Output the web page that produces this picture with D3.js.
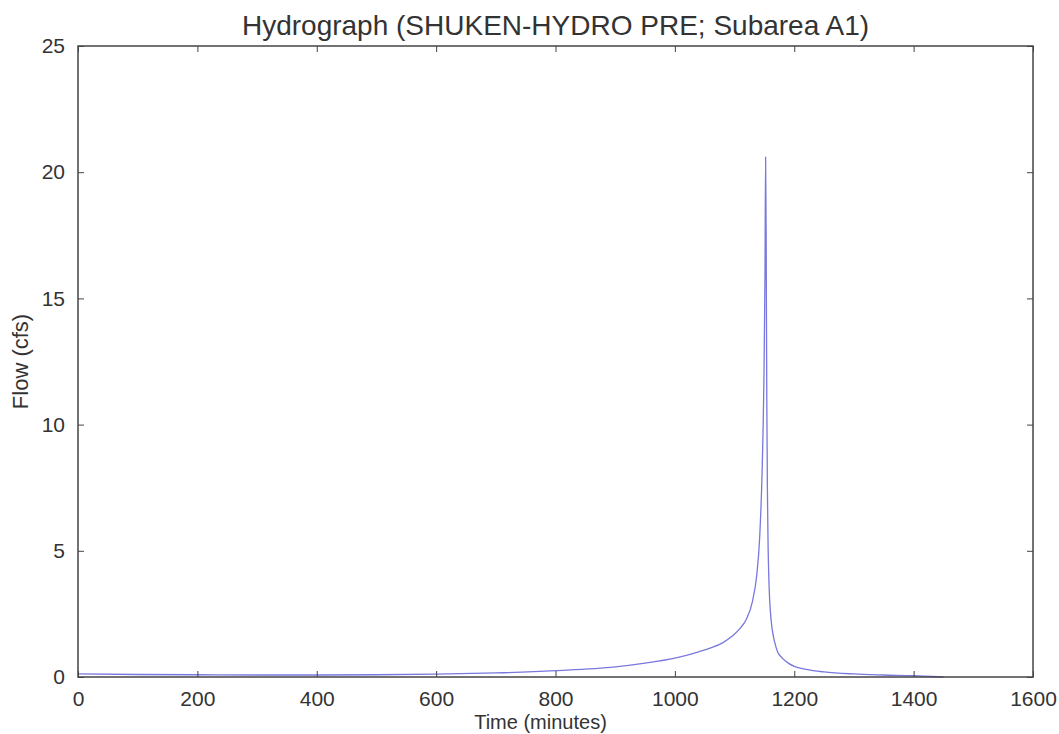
<!DOCTYPE html>
<html>
<head>
<meta charset="utf-8">
<script src="https://d3js.org/d3.v7.min.js"></script>
<style>
  body { margin: 0; background: #fff; }
  text { font-family: "Liberation Sans", Arial, sans-serif; fill: #333; }
</style>
</head>
<body>
<div id="chart-area"></div>
<script>
// data
var times = [0, 100, 200, 300, 400, 500, 600, 700, 800, 900, 950, 1000, 1040, 1060, 1080, 1095,
  1110, 1120, 1130, 1137, 1142, 1146, 1149, 1151, 1152, 1153, 1154, 1155, 1156, 1158, 1160,
  1163, 1167, 1172, 1180, 1190, 1200, 1220, 1250, 1300, 1350, 1400, 1430, 1450]
var flows = [0.12, 0.1, 0.09, 0.08, 0.08, 0.09, 0.11, 0.16, 0.25, 0.4, 0.55, 0.75, 1.0, 1.15, 1.35, 1.6,
  1.95, 2.3, 3.0, 4.0, 5.5, 8.0, 11.5, 16, 20.6, 17, 11, 7.5, 5.5, 3.5, 2.6,
  1.9, 1.4, 1.0, 0.75, 0.55, 0.42, 0.3, 0.2, 0.12, 0.08, 0.05, 0.02, 0]
var xTicks = [0, 200, 400, 600, 800, 1000, 1200, 1400, 1600]
var yTicks = [0, 5, 10, 15, 20, 25]

var margin = {top: 46, right: 26, bottom: 57, left: 78}
var width = 1059 - margin.left - margin.right
var height = 734 - margin.top - margin.bottom

var svg = d3.select("#chart-area").append("svg")
.attr("width", 1059)
.attr("height", 734)

var g = svg.append("g")
.attr("transform", "translate(" + margin.left + ", " + margin.top + ")")

var x = d3.scaleLinear().domain([0, 1600]).range([0, width])
var y = d3.scaleLinear().domain([0, 25]).range([height, 0])

// line
var data = times.map((t, i) => ({t: t, q: flows[i]}))
var line = d3.line().x(d => x(d.t)).y(d => y(d.q)).curve(d3.curveMonotoneX)

g.append("path")
.datum(data)
.attr("d", line)
.attr("fill", "none")
.attr("stroke", "#7878de")
.attr("stroke-width", 1.3)

// axes, ticks point inward on all four sides
var tickStyle = sel => {
  sel.select(".domain").remove()
  sel.selectAll("line").attr("stroke", "#444")
  sel.selectAll("text").style("font-size", "21px").style("fill", "#333")
}

g.append("g")
.attr("transform", "translate(0, " + height + ")")
.call(d3.axisBottom(x).tickValues(xTicks).tickSize(-6).tickPadding(14).tickFormat(d3.format("d")))
.call(tickStyle)

g.append("g")
.call(d3.axisTop(x).tickValues(xTicks).tickSize(-6).tickFormat(""))
.call(tickStyle)

g.append("g")
.call(d3.axisLeft(y).tickValues(yTicks).tickSize(-6).tickPadding(13).tickFormat(d3.format("d")))
.call(tickStyle)

g.append("g")
.attr("transform", "translate(" + width + ", 0)")
.call(d3.axisRight(y).tickValues(yTicks).tickSize(-6).tickFormat(""))
.call(tickStyle)

// frame
g.append("rect")
.attr("width", width)
.attr("height", height)
.attr("fill", "none")
.attr("stroke", "#444")
.attr("stroke-width", 1.5)

// title
g.append("text")
.attr("x", width / 2)
.attr("y", -11)
.attr("font-size", "28px")
.attr("text-anchor", "middle")
.text("Hydrograph (SHUKEN-HYDRO PRE; Subarea A1)")

// X Label
g.append("text")
.attr("x", width / 2 - 15)
.attr("y", height + 52)
.attr("font-size", "20px")
.attr("text-anchor", "middle")
.text("Time (minutes)")

// Y Label
g.append("text")
.attr("x", -(height / 2))
.attr("y", -50)
.attr("font-size", "22px")
.attr("text-anchor", "middle")
.attr("transform", "rotate(-90)")
.text("Flow (cfs)")
</script>
</body>
</html>
